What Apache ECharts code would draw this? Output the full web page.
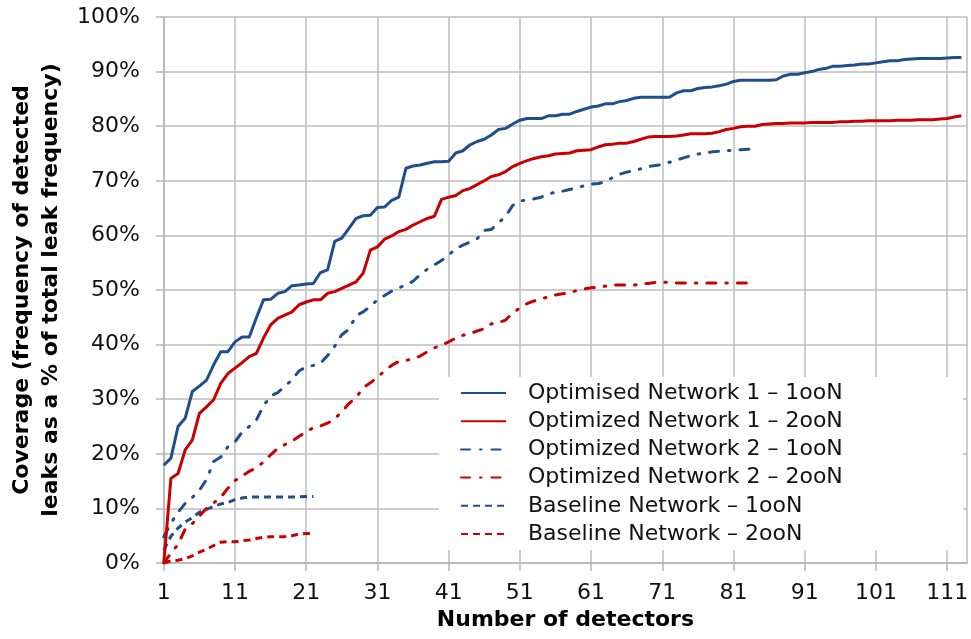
<!DOCTYPE html>
<html>
<head>
<meta charset="utf-8">
<script src="https://cdn.jsdelivr.net/npm/echarts@6/dist/echarts.min.js"></script>
<style>html,body{margin:0;padding:0;background:#fff}#c{width:971px;height:639px}</style>
</head>
<body>
<div id="c"></div>
<script>
// ---- data (coverage %, index 0 = 1 detector) ----
const seriesNames = [
  'Optimised Network 1 \u2013 1ooN',
  'Optimized Network 1 \u2013 2ooN',
  'Optimized Network 2 \u2013 1ooN',
  'Optimized Network 2 \u2013 2ooN',
  'Baseline Network \u2013 1ooN',
  'Baseline Network \u2013 2ooN'
];
const xTickLabels = [1, 11, 21, 31, 41, 51, 61, 71, 81, 91, 101, 111];
const yTickLabels = ['0%','10%','20%','30%','40%','50%','60%','70%','80%','90%','100%'];

const opt1_1ooN = [17.9,19.2,25,26.5,31.4,32.4,33.5,36.3,38.7,38.7,40.5,41.4,41.4,44.9,48.2,48.3,49.4,49.7,50.8,50.9,
  51.1,51.2,53.2,53.7,58.9,59.5,61.3,63.1,63.6,63.7,65.1,65.2,66.4,67,72.3,72.7,72.9,73.2,73.5,73.5,
  73.6,75.1,75.5,76.6,77.2,77.6,78.4,79.4,79.6,80.4,81.1,81.4,81.4,81.4,81.9,81.9,82.2,82.2,82.7,83.1,
  83.5,83.7,84.1,84.1,84.5,84.7,85.1,85.3,85.3,85.3,85.3,85.3,86.1,86.5,86.5,86.9,87.1,87.2,87.4,87.7,
  88.2,88.4,88.4,88.4,88.4,88.4,88.5,89.2,89.5,89.5,89.8,90,90.4,90.6,91,91,91.1,91.2,91.4,91.4,
  91.6,91.8,92,92,92.2,92.3,92.4,92.4,92.4,92.4,92.5,92.6,92.6];
const opt1_2ooN = [0,15.5,16.4,20.7,22.5,27.4,28.6,29.9,32.9,34.7,35.7,36.7,37.8,38.4,41.2,43.6,44.8,45.4,46,47.3,
  47.8,48.2,48.2,49.4,49.7,50.3,50.9,51.5,53.1,57.3,57.9,59.3,59.9,60.7,61.1,61.9,62.5,63.1,63.5,66.6,
  67,67.3,68.2,68.6,69.3,70,70.8,71.1,71.7,72.6,73.2,73.7,74.1,74.4,74.6,74.9,75,75.1,75.5,75.6,
  75.7,76.2,76.6,76.7,76.9,76.9,77.2,77.6,78,78.1,78.1,78.1,78.2,78.4,78.6,78.6,78.6,78.7,79,79.4,
  79.6,79.9,80,80,80.3,80.4,80.5,80.5,80.6,80.6,80.6,80.7,80.7,80.7,80.7,80.8,80.8,80.9,80.9,81,
  81,81,81,81.1,81.1,81.1,81.2,81.2,81.2,81.3,81.4,81.7,81.9];
const opt2_1ooN = [4.8,7.3,9.3,10.9,12,13.3,15.3,18.6,19.4,21.3,22.2,24,25,26.2,28.8,30.6,31.2,32.4,33.5,35.2,
  35.9,36.2,36.6,38,39.7,41.8,42.8,45.3,46,47,48.2,49,49.8,50.4,50.9,51.6,52.8,53.8,54.6,55.4,
  56.4,57.6,58.2,58.8,59.4,60.9,61.1,62.3,63.5,65.5,66.3,66.5,66.7,67,67.6,67.9,68.1,68.4,68.7,69.1,
  69.4,69.5,69.8,70.6,71.2,71.6,71.8,72.2,72.6,72.8,73,73.4,73.8,74.2,74.6,74.9,75.1,75.3,75.4,75.5,
  75.6,75.7,75.8,75.8];
const opt2_2ooN = [0,1.8,3.4,6.2,7.2,8.6,10,11,12,13.7,15.1,15.9,16.8,17.4,18.5,19.8,21,21.7,22.3,23.2,
  24,24.8,25.1,25.6,26.4,27.7,29.2,30.3,32.1,33,34,35.2,36.2,36.9,37.1,37.4,37.9,38.7,39.4,39.9,
  40.5,41.2,41.7,42,42.5,42.9,43.8,44,44.5,45.8,46.7,47.5,48,48.3,48.8,49.1,49.3,49.5,49.9,50.2,
  50.4,50.5,50.7,50.9,50.9,50.9,50.9,51.1,51.2,51.4,51.4,51.4,51.3,51.3,51.3,51.3,51.3,51.3,51.3,51.3,
  51.3,51.3,51.3,51.5];
const base_1ooN = [2.4,4.9,6.4,7.5,8.3,9.3,9.8,10.4,10.8,11.1,11.6,11.9,12.1,12.1,12.1,12.1,12.1,12.1,12.1,12.1,12.2,12.2];
const base_2ooN = [0,0.4,0.5,0.8,1.3,2,2.5,3.2,3.8,3.9,3.9,4.1,4.2,4.5,4.7,4.8,4.8,4.8,5,5.3,5.4,5.4];

// ---- chart ----
const BLUE = '#1f4e8c';
const RED = '#c80000';
const FONT = 'DejaVu Sans';
const toXY = arr => arr.map((v, i) => [i + 1, v]);

const styles = [
  {color: BLUE, type: 'solid', cap: 'butt'},
  {color: RED, type: 'solid', cap: 'butt'},
  {color: BLUE, type: [9, 10, 1.5, 10], cap: 'round'},
  {color: RED, type: [9, 10, 1.5, 10], cap: 'round'},
  {color: BLUE, type: [7, 5], cap: 'butt'},
  {color: RED, type: [7, 5], cap: 'butt'}
];
const datas = [opt1_1ooN, opt1_2ooN, opt2_1ooN, opt2_2ooN, base_1ooN, base_2ooN];

const series = datas.map((d, k) => ({
  name: seriesNames[k],
  type: 'line',
  data: toXY(d),
  showSymbol: false,
  symbol: 'none',
  smooth: false,
  animation: false,
  z: 10 - k,
  itemStyle: {color: styles[k].color},
  lineStyle: {color: styles[k].color, width: 3, type: styles[k].type, cap: styles[k].cap, join: 'round'}
}));

const chart = echarts.init(document.getElementById('c'), null, {renderer: 'canvas'});
chart.setOption({
  animation: false,
  backgroundColor: '#fff',
  grid: {left: 158, right: 0, top: 17, bottom: 76},
  legend: {
    orient: 'vertical',
    left: 439,
    top: 377,
    padding: [5, 120, 5, 21],
    backgroundColor: '#fff',
    itemWidth: 45,
    itemHeight: 14,
    itemGap: 6.2,
    itemStyle: {opacity: 0},
    data: seriesNames,
    textStyle: {fontFamily: FONT, fontSize: 22, color: '#111', lineHeight: 22, padding: [0, 0, 0, 17]}
  },
  xAxis: {
    type: 'value',
    min: 1,
    max: 113.8,
    interval: 10,
    name: 'Number of detectors',
    nameLocation: 'middle',
    nameGap: 45,
    nameTextStyle: {fontFamily: FONT, fontSize: 22, fontWeight: 'bold', color: '#000'},
    axisLine: {show: true, lineStyle: {color: '#b5b5b5', width: 1.5}},
    axisTick: {show: true, inside: false, length: 8, lineStyle: {color: '#b5b5b5', width: 1.5}},
    axisLabel: {
      fontFamily: FONT, fontSize: 22, color: '#111', margin: 19,
      showMaxLabel: false,
      formatter: v => (xTickLabels.indexOf(Math.round(v * 100) / 100) >= 0 ? String(v) : '')
    },
    splitLine: {show: true, lineStyle: {color: '#bdbdbd', width: 1.5}}
  },
  yAxis: {
    type: 'value',
    min: 0,
    max: 100,
    interval: 10,
    name: 'Coverage (frequency of detected\nleaks as a % of total leak frequency)',
    nameLocation: 'middle',
    nameGap: 90,
    nameTextStyle: {fontFamily: FONT, fontSize: 22, fontWeight: 'bold', color: '#000', lineHeight: 29},
    axisLine: {show: true, lineStyle: {color: '#b5b5b5', width: 1.5}},
    axisTick: {show: true, inside: false, length: 8, lineStyle: {color: '#b5b5b5', width: 1.5}},
    axisLabel: {
      fontFamily: FONT, fontSize: 22, color: '#111', margin: 24,
      formatter: v => yTickLabels[Math.round(v / 10)]
    },
    splitLine: {show: true, lineStyle: {color: '#bdbdbd', width: 1.5}}
  },
  series: series
});
</script>
</body>
</html>
